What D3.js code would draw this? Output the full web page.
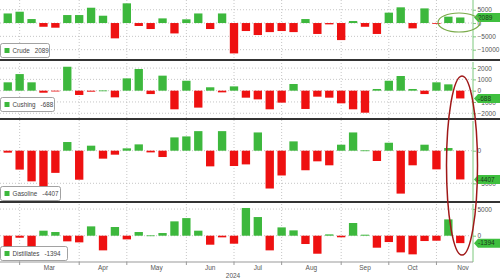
<!DOCTYPE html>
<html>
<head>
<meta charset="utf-8">
<script src="https://cdn.jsdelivr.net/npm/d3@7"></script>
<style>
  body { margin: 0; background: #fff; }
  svg { display: block; font-family: "Liberation Sans", Arial, sans-serif; }
</style>
</head>
<body>
<div id="chart"></div>
<script>
// Weekly EIA inventory changes (kbbl)

const weeks = [
    "2024-02-23", "2024-03-01", "2024-03-08", "2024-03-15", "2024-03-22", "2024-03-29",
    "2024-04-05", "2024-04-12", "2024-04-19", "2024-04-26",
    "2024-05-03", "2024-05-10", "2024-05-17", "2024-05-24", "2024-05-31",
    "2024-06-07", "2024-06-14", "2024-06-21", "2024-06-28",
    "2024-07-05", "2024-07-12", "2024-07-19", "2024-07-26",
    "2024-08-02", "2024-08-09", "2024-08-16", "2024-08-23", "2024-08-30",
    "2024-09-06", "2024-09-13", "2024-09-20", "2024-09-27",
    "2024-10-04", "2024-10-11", "2024-10-18", "2024-10-25",
    "2024-11-01", "2024-11-08", "2024-11-15"
];

const crude = [3600, 4250, 1500, -1400, -1750, 3000, 3000, 5750, 2750, -5750,
    7400, -1100, -2250, 1750, -3900, 1400, 3600, -2250, 3600, -11400,
    -3000, -4500, -3400, -3000, -3400, 1500, -4100, -500, -6400, 750,
    -1400, -4100, 3900, 5900, -2000, 5500, -200, 2400, 2089];

const cushing = [740, 1470, 740, -180, -50, 2120, -380, -90, 20, -590,
    1090, 1920, -300, 1330, -1650, 880, -1500, 300, -150, 380,
    -620, -770, -1650, -1060, 590, -1620, -530, -620, -1120, -1650,
    -1950, 150, 880, 1300, 150, -300, 740, 560, -688];

const gasoline = [-300, -2900, -4700, -5500, -3400, 1330, -4450, 770, -1220, -610,
    360, 970, -260, -970, 2040, 2190, 3000, -2400, 3000, -2350,
    -2100, 2800, -5800, -3800, 1430, -3000, -1630, -2240, 920, 2800,
    50, -1580, 1220, -6580, -2240, 920, -2860, 410, -4407];

const distillates = [-2300, -380, -2200, 940, 690, -1060, -1250, 1750, -2750, 1630,
    -690, 690, 60, 500, 2690, 3300, 940, -1690, -310, -1500,
    5200, 3500, -2750, 1560, 1000, -1560, -3380, 250, -300, 2380,
    190, -2250, -1190, -3130, -3500, -1000, -940, 3060, -1394];

const crudeTicks = [5000, 0, -5000, -10000];
const cushingTicks = [2000, 1000, 0, -1000, -2000];
const gasolineTicks = [0, -5000];
const distillatesTicks = [5000, 0];

const monthStarts = ["2024-03-01", "2024-04-05", "2024-05-03", "2024-06-07", "2024-07-05",
    "2024-08-02", "2024-09-06", "2024-10-04", "2024-11-01"];
const monthLabels = ["Mar", "Apr", "May", "Jun", "Jul", "Aug", "Sep", "Oct", "Nov"];

// layout
const width = 500, height = 280;
const plotRight = 468;
const axisX = 473;
const bottomY = 262;
const GREEN = '#3db83d';
const RED = '#ee1111';

const panels = [
    { name: 'Crude', values: crude, ticks: crudeTicks, top: 0, bottom: 59, domain: [-13500, 8650], legendY: 43, legendW: 49 },
    { name: 'Cushing', values: cushing, ticks: cushingTicks, top: 62, bottom: 118, domain: [-2420, 2540], legendY: 97, legendW: 54 },
    { name: 'Gasoline', values: gasoline, ticks: gasolineTicks, top: 121, bottom: 201, domain: [-7715, 4555], legendY: 186, legendW: 60 },
    { name: 'Distillates', values: distillates, ticks: distillatesTicks, top: 204, bottom: 262, domain: [-4934, 5947], legendY: 246, legendW: 67 }
];

const svg = d3.select('#chart')
    .append('svg')
    .attr('width', width)
    .attr('height', height);

const x = d3.scaleBand()
    .domain(weeks)
    .range([0, plotRight])
    .padding(0.3);

const step = x.step();
const tickX = d => x(d) - x.paddingInner() * step / 2 + x.bandwidth() / 2;
const monthX = monthStarts.map(d => x(d) + x.bandwidth() / 2);

// vertical dotted month gridlines
svg.append('g')
    .selectAll('line')
    .data(monthX)
    .join('line')
    .attr('x1', d => d).attr('x2', d => d)
    .attr('y1', 0).attr('y2', bottomY)
    .attr('stroke', '#b8b8b8')
    .attr('stroke-width', 0.8)
    .attr('stroke-dasharray', '1,2');

panels.forEach(p => {
    const y = d3.scaleLinear()
        .domain(p.domain)
        .range([p.bottom, p.top]);

    const g = svg.append('g');

    // horizontal gridlines
    g.selectAll('line.grid')
        .data(p.ticks)
        .join('line')
        .attr('class', 'grid')
        .attr('x1', 0).attr('x2', axisX)
        .attr('y1', d => y(d)).attr('y2', d => y(d))
        .attr('stroke', '#b8b8b8')
        .attr('stroke-width', 0.8)
        .attr('stroke-dasharray', '1,2');

    // bars
    g.selectAll('rect.bar')
        .data(p.values)
        .join('rect')
        .attr('class', 'bar')
        .attr('x', (d, i) => x(weeks[i]))
        .attr('width', x.bandwidth())
        .attr('y', d => y(Math.max(0, d)))
        .attr('height', d => Math.max(0.8, Math.abs(y(d) - y(0))))
        .attr('fill', d => d >= 0 ? GREEN : RED);

    // right axis
    const axis = d3.axisRight(y)
        .tickValues(p.ticks)
        .tickSize(3)
        .tickPadding(1.5)
        .tickFormat(d3.format('d'));

    const ag = svg.append('g')
        .attr('transform', `translate(${axisX},0)`)
        .call(axis);
    ag.select('.domain')
        .attr('d', `M0,${p.top}V${p.bottom}`)
        .attr('stroke', '#7cc87c');
    ag.selectAll('.tick line').attr('stroke', '#7cc87c');
    ag.selectAll('.tick text')
        .attr('fill', '#555')
        .attr('font-size', 6.5)
        .attr('font-family', '"Liberation Sans", Arial, sans-serif');

    // last value tag
    const last = p.values[p.values.length - 1];
    const ty = y(last);
    svg.append('path')
        .attr('d', `M${axisX + 1},${ty} L${axisX + 5},${ty - 4.5} L${width},${ty - 4.5} L${width},${ty + 4.5} L${axisX + 5},${ty + 4.5} Z`)
        .attr('fill', '#3fbf3f');
    svg.append('text')
        .attr('x', axisX + 5)
        .attr('y', ty + 2.3)
        .attr('font-size', 6.5)
        .attr('fill', '#1a3a1a')
        .text(last);

    // legend box
    const lg = svg.append('g').attr('transform', `translate(0.5,${p.legendY + 0.5})`);
    lg.append('rect')
        .attr('width', p.legendW)
        .attr('height', 14)
        .attr('rx', 2)
        .attr('fill', '#fff')
        .attr('stroke', '#8a8a8a')
        .attr('stroke-width', 0.8);
    lg.append('rect')
        .attr('x', 4).attr('y', 4.5)
        .attr('width', 5).attr('height', 5)
        .attr('fill', GREEN);
    const lt = lg.append('text')
        .attr('x', 12)
        .attr('y', 9.5)
        .attr('font-size', 6.3)
        .attr('fill', '#444');
    lt.append('tspan').text(p.name);
    lt.append('tspan').attr('dx', 5).text(last);
});

// panel dividers
[60, 119, 202].forEach(yy => {
    svg.append('line')
        .attr('x1', 0).attr('x2', width)
        .attr('y1', yy).attr('y2', yy)
        .attr('stroke', '#333')
        .attr('stroke-width', 2);
});

// bottom date axis
svg.append('line')
    .attr('x1', 0).attr('x2', axisX)
    .attr('y1', bottomY).attr('y2', bottomY)
    .attr('stroke', '#999')
    .attr('stroke-width', 1);

svg.append('g')
    .selectAll('line')
    .data(monthX)
    .join('line')
    .attr('x1', d => d).attr('x2', d => d)
    .attr('y1', bottomY).attr('y2', bottomY + 3)
    .attr('stroke', '#999');

svg.append('g')
    .selectAll('text')
    .data(monthLabels)
    .join('text')
    .attr('x', (d, i) => {
        const next = i < monthX.length - 1 ? monthX[i + 1] : monthX[i] + 60;
        return Math.min((monthX[i] + next) / 2, axisX - 10);
    })
    .attr('y', 270)
    .attr('text-anchor', 'middle')
    .attr('font-size', 6.5)
    .attr('fill', '#555')
    .text(d => d);

svg.append('text')
    .attr('x', 233)
    .attr('y', 277.5)
    .attr('text-anchor', 'middle')
    .attr('font-size', 6.5)
    .attr('fill', '#555')
    .text('2024');

// annotation ellipses
svg.append('ellipse')
    .attr('cx', 459).attr('cy', 22.5)
    .attr('rx', 21).attr('ry', 9.5)
    .attr('fill', 'none')
    .attr('stroke', '#7aab4a')
    .attr('stroke-width', 1.2);

svg.append('ellipse')
    .attr('cx', 462).attr('cy', 165.5)
    .attr('rx', 15.5).attr('ry', 89.5)
    .attr('fill', 'none')
    .attr('stroke', '#a01818')
    .attr('stroke-width', 1.5);
</script>
</body>
</html>
